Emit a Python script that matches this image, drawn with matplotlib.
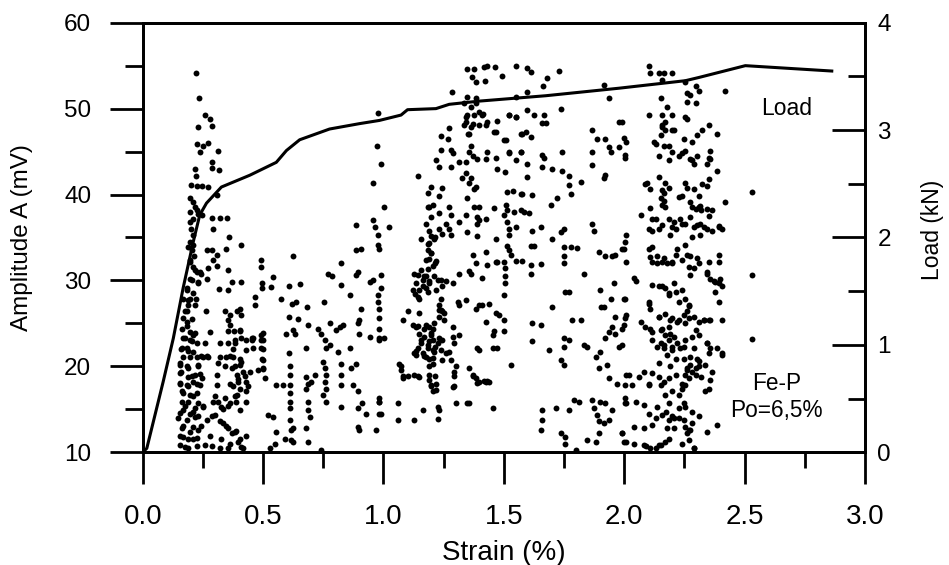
import matplotlib
matplotlib.use("Agg")
import matplotlib.pyplot as plt
from matplotlib.ticker import MultipleLocator

plt.rcParams['font.family'] = ['Liberation Sans', 'DejaVu Sans']

# ---- Load curve (right axis, kN) ----
load_strain = [0.0, 0.017, 0.085, 0.127, 0.168, 0.21, 0.237, 0.265, 0.327, 0.445,
               0.555, 0.597, 0.652, 0.776, 0.90, 0.983, 1.073, 1.10, 1.218, 1.273,
               1.398, 1.674, 1.978, 2.254, 2.31, 2.503, 2.862]
load_kN = [0.0, 0.037, 0.657, 1.06, 1.53, 1.96, 2.21, 2.32, 2.47, 2.58,
           2.70, 2.81, 2.91, 3.01, 3.06, 3.09, 3.14, 3.19, 3.20, 3.24,
           3.27, 3.32, 3.39, 3.46, 3.49, 3.60, 3.55]

# ---- AE hits: strain (%) and amplitude (mV) ----
strain_a = [0.22, 0.232, 0.258, 0.279, 0.286, 0.231, 0.224, 0.251, 0.272, 0.238, 0.311, 0.217, 0.286, 0.286, 0.316,
            0.221, 0.2, 0.224, 0.245, 0.272, 0.307, 0.196, 0.21, 0.217, 0.227, 0.196, 0.231, 0.245, 0.21, 0.196,
            0.286, 0.32, 0.351, 0.293, 0.2, 0.207, 0.196, 0.21, 0.203, 0.213, 0.359, 0.41, 0.348, 0.265, 0.286,
            0.307, 0.293, 0.196, 0.21, 0.224, 0.196, 0.231, 0.265, 0.238, 0.272, 0.309, 0.355, 0.316, 0.355, 0.369,
            0.41, 0.182, 0.168, 0.196, 0.221, 0.189, 0.182, 0.262, 0.341, 0.362, 0.39, 0.403, 0.41, 0.355, 0.362,
            0.378, 0.403, 0.168, 0.182, 0.162, 0.196, 0.21, 0.175, 0.203, 0.279, 0.258, 0.32, 0.355, 0.383, 0.41,
            0.43, 0.459, 0.162, 0.182, 0.21, 0.168, 0.196, 0.224, 0.251, 0.272, 0.32, 0.348, 0.376, 0.403, 0.431,
            0.155, 0.189, 0.231, 0.155, 0.189, 0.217, 0.245, 0.307, 0.369, 0.39, 0.403, 0.417, 0.445, 0.48, 0.155,
            0.182, 0.21, 0.238, 0.162, 0.196, 0.224, 0.307, 0.362, 0.396, 0.403, 0.431, 0.39, 0.431, 0.162, 0.189,
            0.168, 0.21, 0.231, 0.251, 0.293, 0.327, 0.341, 0.362, 0.403, 0.431, 0.148, 0.182, 0.217, 0.162, 0.196,
            0.231, 0.168, 0.21, 0.265, 0.3, 0.334, 0.355, 0.383, 0.279, 0.155, 0.189, 0.224, 0.286, 0.32, 0.355,
            0.396, 0.417]
amp_a = [54.2, 51.2, 49.2, 48.8, 48.0, 47.9, 45.9, 45.7, 46.0, 45.0, 45.1, 43.0, 43.8, 43.1, 42.9,
         42.1, 41.1, 41.0, 41.0, 40.9, 40.0, 39.6, 39.1, 38.6, 38.2, 38.0, 37.7, 37.6, 37.2, 36.8,
         37.3, 37.3, 37.3, 36.0, 36.0, 35.3, 34.5, 34.1, 33.5, 32.9, 35.0, 34.1, 33.7, 33.5, 33.5,
         33.0, 32.4, 32.2, 31.6, 31.0, 30.2, 29.8, 30.2, 31.0, 31.4, 31.7, 31.2, 29.0, 28.9, 29.8,
         29.8, 29.1, 27.9, 27.9, 27.9, 27.1, 26.4, 26.4, 26.4, 26.0, 26.4, 26.7, 26.0, 25.4, 24.8,
         24.1, 24.2, 25.6, 25.2, 24.4, 24.0, 23.6, 23.3, 22.9, 24.0, 22.7, 22.7, 22.7, 22.7, 23.3,
         23.1, 23.3, 22.1, 22.1, 21.7, 21.1, 21.1, 21.1, 21.1, 21.1, 21.1, 21.1, 21.1, 20.9, 21.9,
         20.2, 19.8, 20.2, 19.2, 18.8, 19.0, 18.6, 19.0, 19.8, 19.0, 20.2, 19.4, 19.4, 19.6, 18.0,
         17.8, 18.2, 17.8, 17.1, 16.7, 16.9, 17.8, 18.0, 18.2, 17.4, 18.2, 16.7, 17.1, 15.9, 15.9,
         14.9, 14.7, 15.7, 15.3, 15.9, 15.3, 16.3, 15.7, 14.9, 15.9, 14.0, 13.8, 14.1, 12.8, 12.4,
         12.6, 11.8, 11.6, 13.8, 14.3, 13.4, 12.8, 12.4, 11.9, 10.9, 10.5, 10.7, 10.7, 10.5, 10.5,
         11.2, 10.5]

strain_b = [0.624, 0.493, 0.493, 0.541, 0.497, 0.497, 0.534, 0.465, 0.465, 0.576, 0.608, 0.652, 0.622, 0.638, 0.682,
            0.751, 0.608, 0.645, 0.597, 0.624, 0.631, 0.686, 0.493, 0.493, 0.493, 0.452, 0.459, 0.608, 0.68, 0.728,
            0.742, 0.756, 0.776, 0.776, 0.804, 0.818, 0.831, 0.762, 0.749, 0.756, 0.762, 0.756, 0.762, 0.749, 0.762,
            0.68, 0.686, 0.68, 0.686, 0.686, 0.693, 0.68, 0.686, 0.742, 0.714, 0.7, 0.61, 0.61, 0.61, 0.61,
            0.61, 0.61, 0.613, 0.617, 0.617, 0.552, 0.583, 0.497, 0.5, 0.507, 0.521, 0.541, 0.555, 0.548, 0.528,
            0.59, 0.624, 0.624, 0.825, 0.825, 0.825, 0.813, 0.866, 0.887, 0.873, 0.894, 0.825, 0.894, 0.909, 0.928,
            0.9, 0.894, 0.97, 0.983, 0.983, 0.983, 0.859, 0.942, 0.983, 1.004, 0.9, 0.894, 0.9, 0.907, 0.859,
            0.825, 0.825, 0.769, 0.787, 0.887, 0.894, 0.942, 0.956, 0.977, 0.977, 0.981, 0.983, 0.983, 0.983, 0.99,
            0.99, 0.887, 0.956, 0.963, 0.977, 0.977, 0.983, 0.887, 0.907, 1.004, 1.025, 0.99, 0.972, 0.956, 0.977]
amp_b = [32.9, 32.4, 31.6, 30.4, 29.7, 29.1, 29.2, 28.1, 27.2, 27.8, 29.4, 29.6, 27.3, 27.5, 26.9,
         27.5, 25.8, 25.5, 23.8, 24.2, 23.8, 24.8, 23.7, 23.1, 22.1, 23.3, 22.1, 21.6, 22.1, 24.4,
         23.8, 23.1, 22.5, 25.0, 24.2, 24.6, 24.8, 22.1, 20.5, 19.8, 19.0, 18.2, 17.4, 16.7, 15.9,
         18.8, 18.0, 17.4, 15.9, 14.9, 14.1, 12.8, 11.2, 10.3, 19.0, 18.2, 20.0, 19.0, 17.8, 16.9,
         15.9, 15.1, 13.8, 12.6, 11.4, 17.8, 17.8, 20.9, 19.8, 18.6, 14.3, 14.1, 12.4, 11.0, 10.5,
         11.6, 12.8, 11.2, 20.3, 19.0, 17.8, 21.7, 19.8, 20.3, 17.8, 17.1, 15.3, 15.1, 15.7, 14.5,
         12.6, 13.0, 12.6, 16.3, 15.9, 14.5, 22.1, 23.4, 23.3, 23.3, 25.4, 25.0, 23.8, 26.7, 28.3,
         29.5, 32.0, 30.7, 30.5, 30.6, 31.0, 29.8, 30.0, 28.3, 27.5, 26.7, 25.6, 24.4, 23.1, 29.1,
         30.6, 36.4, 37.0, 36.2, 35.3, 34.1, 33.7, 33.5, 33.7, 38.5, 36.2, 43.6, 45.6, 41.3, 49.5]

strain_c = [1.349, 1.377, 1.418, 1.432, 1.464, 1.549, 1.598, 1.611, 1.729, 1.367, 1.383, 1.422, 1.494, 1.681, 1.664,
            1.284, 1.345, 1.383, 1.549, 1.598, 1.915, 1.936, 1.335, 1.363, 1.383, 1.397, 1.349, 1.342, 1.37, 1.356,
            1.397, 1.411, 1.432, 1.473, 1.598, 1.625, 1.667, 1.736, 1.522, 1.549, 1.66, 1.674, 1.591, 1.577, 1.611,
            1.466, 1.239, 1.266, 1.273, 1.28, 1.287, 1.239, 1.218, 1.232, 1.28, 1.325, 1.363, 1.377, 1.363, 1.356,
            1.37, 1.39, 1.425, 1.432, 1.315, 1.342, 1.508, 1.522, 1.549, 1.57, 1.466, 1.473, 1.505, 1.66, 1.667,
            1.66, 1.701, 1.598, 1.598, 1.743, 1.743, 1.77, 1.77, 1.777, 1.819, 1.867, 1.888, 1.867, 1.867, 1.922,
            1.936, 1.977, 1.943, 2.002, 2.002, 1.977, 1.922, 1.915, 1.142, 1.197, 1.183, 1.232, 1.245, 1.273, 1.232,
            1.19, 1.204, 1.342, 1.356, 1.383, 1.349, 1.377, 1.397, 1.515, 1.536, 1.57, 1.577, 1.616, 1.508, 1.515,
            1.542, 1.57, 1.584, 1.605, 1.694, 1.722, 1.28, 1.259, 1.232, 1.245, 1.273, 1.28, 1.314, 1.342, 1.39,
            1.397, 1.425, 1.39, 1.459, 1.501, 1.515, 1.522, 1.522, 1.549, 1.618, 1.653, 1.736, 1.749, 1.701, 1.867,
            1.874, 1.349, 1.39, 1.466, 1.515, 1.522, 1.529, 1.549, 1.577, 1.611, 1.625, 1.653, 1.749, 1.777, 1.805,
            1.749, 1.749, 1.611, 1.611, 1.895, 1.922, 1.95, 1.963, 1.991, 2.005, 1.37, 1.383, 1.425, 1.432, 1.466,
            1.473, 1.501, 1.505, 1.314, 1.356, 1.363, 1.411, 1.505, 1.505, 1.501, 1.832, 1.957, 1.901, 1.77, 1.756,
            1.156, 1.197, 1.211, 1.19, 1.183, 1.197, 1.19, 1.218, 1.204, 1.183, 1.176, 1.211, 1.19, 1.163, 1.225,
            1.239, 1.245, 1.259, 1.287, 1.176, 1.135, 1.121, 1.142, 1.149, 1.128, 1.142, 1.232, 1.239, 1.245, 1.252,
            1.232, 1.308, 1.314, 1.342, 1.383, 1.397, 1.411, 1.439, 1.466, 1.48, 1.501, 1.425, 1.08, 1.1, 1.149,
            1.121, 1.135, 1.149, 1.176, 1.19, 1.204, 1.211, 1.197, 1.17, 1.156, 1.19, 1.204, 1.232, 1.245, 1.225,
            1.287, 1.287, 1.314, 1.294, 1.46, 1.453, 1.501, 1.618, 1.653, 1.701, 1.784, 1.819, 1.902, 1.915, 1.943,
            2.005, 1.95, 1.936, 1.963, 2.005, 1.991, 1.963, 1.922, 1.977, 1.142, 1.128, 1.135, 1.163, 1.183, 1.204,
            1.176, 1.19, 1.211, 1.239, 1.259, 1.273, 1.28, 1.245, 1.204, 1.301, 1.294, 1.066, 1.073, 1.08, 1.19,
            1.19, 1.197, 1.204, 1.218, 1.149, 1.128, 1.287, 1.301, 1.356, 1.39, 1.397, 1.383, 1.397, 1.425, 1.439,
            1.356, 1.37, 1.453, 1.473, 1.453, 1.529, 1.618, 1.687, 1.736, 1.749, 1.749, 1.749, 1.77, 1.832, 1.846,
            1.881, 1.901, 1.895, 1.929, 1.936, 1.97, 2.005, 2.005, 0.983, 0.99, 1.059, 1.163, 1.128, 1.059, 1.225,
            1.232, 1.225, 1.349, 1.66, 1.66, 1.653, 1.715, 1.77, 1.791, 1.812, 1.867, 1.874, 1.888, 1.895, 1.915,
            1.936, 1.95, 1.901, 1.922, 1.736, 1.756, 1.756, 1.798, 1.846, 1.881, 1.895, 2.005, 1.991, 1.998]
amp_c = [54.6, 54.6, 54.8, 54.96, 54.9, 54.96, 54.7, 54.3, 54.4, 53.7, 53.1, 53.2, 53.8, 53.6, 52.6,
         51.9, 51.4, 51.2, 51.3, 51.9, 52.7, 51.2, 50.6, 50.2, 50.6, 49.6, 49.2, 48.4, 48.2, 47.1,
         48.1, 49.2, 48.4, 48.6, 49.8, 49.2, 49.3, 50.0, 49.3, 49.0, 48.3, 48.3, 47.3, 47.0, 46.7,
         47.3, 46.8, 46.5, 47.7, 45.2, 44.8, 45.2, 44.0, 43.2, 43.2, 41.9, 41.9, 40.7, 45.6, 44.9,
         44.5, 44.1, 44.1, 44.9, 43.8, 43.8, 46.3, 45.0, 44.0, 45.0, 44.2, 43.0, 42.6, 44.6, 44.2,
         43.2, 43.0, 43.6, 42.0, 45.0, 42.7, 42.2, 41.1, 40.1, 41.5, 47.5, 46.5, 45.0, 43.4, 46.5,
         45.5, 45.5, 44.9, 44.6, 44.2, 48.5, 42.3, 41.9, 42.1, 40.9, 40.2, 39.8, 40.8, 38.6, 37.8,
         38.6, 38.8, 42.5, 41.3, 40.9, 39.6, 38.6, 38.6, 40.3, 40.4, 40.1, 40.1, 40.0, 38.8, 38.2,
         38.0, 38.2, 38.0, 37.8, 38.8, 39.6, 37.6, 36.6, 36.0, 35.4, 36.0, 35.3, 36.8, 37.6, 37.4,
         37.0, 37.2, 36.6, 38.4, 37.6, 36.8, 36.0, 35.3, 36.2, 35.8, 36.2, 35.6, 36.0, 34.8, 36.6,
         35.8, 35.6, 35.2, 34.8, 34.0, 33.6, 33.0, 32.3, 32.3, 34.0, 34.0, 31.9, 33.9, 33.9, 33.8,
         32.9, 32.0, 31.8, 30.8, 33.3, 32.9, 32.9, 33.0, 33.7, 34.5, 33.0, 32.0, 33.3, 31.8, 32.1,
         32.1, 32.2, 31.4, 30.7, 31.1, 30.7, 30.3, 30.5, 29.7, 28.3, 30.7, 29.7, 28.9, 28.7, 28.7,
         34.8, 35.2, 34.8, 34.4, 33.6, 33.2, 32.5, 32.3, 31.7, 31.3, 30.5, 30.5, 29.7, 30.1, 30.1,
         30.1, 29.3, 29.9, 29.7, 29.1, 29.7, 28.9, 28.1, 28.9, 30.8, 30.6, 27.1, 26.6, 26.4, 25.4,
         25.8, 27.5, 27.1, 27.7, 26.7, 27.1, 27.1, 27.3, 26.2, 26.0, 25.4, 25.2, 25.4, 26.4, 26.2,
         24.8, 24.6, 23.8, 24.8, 24.6, 24.4, 25.0, 23.6, 23.4, 22.7, 22.9, 23.1, 23.3, 23.1, 22.7,
         24.6, 23.4, 23.6, 22.7, 24.1, 23.6, 24.1, 25.0, 24.8, 26.9, 25.4, 25.4, 26.9, 26.9, 27.9,
         27.9, 24.6, 24.0, 25.8, 25.6, 24.4, 23.8, 23.3, 22.3, 22.1, 21.5, 21.3, 21.5, 22.1, 21.9,
         21.1, 20.9, 21.7, 21.9, 21.5, 21.7, 20.7, 20.7, 20.3, 20.0, 19.4, 20.3, 19.6, 18.6, 19.0,
         18.4, 17.8, 17.1, 18.0, 18.8, 19.0, 17.6, 15.7, 15.7, 22.1, 21.9, 18.6, 18.2, 18.2, 18.2,
         19.8, 19.0, 22.1, 22.1, 15.1, 20.2, 22.9, 21.9, 20.7, 20.2, 23.3, 22.3, 23.1, 22.5, 22.3,
         21.1, 21.7, 19.8, 20.2, 18.6, 18.0, 17.8, 15.7, 15.9, 14.5, 15.7, 14.9, 13.8, 13.8, 15.3,
         14.9, 13.9, 15.7, 14.9, 13.8, 12.6, 15.1, 14.9, 16.1, 15.9, 16.1, 15.1, 14.3, 13.6, 13.4,
         13.8, 14.9, 15.9, 15.7, 12.2, 11.8, 11.0, 10.3, 11.4, 11.2, 12.2, 16.3, 12.2, 11.2]

strain_d = [2.102, 2.109, 2.144, 2.164, 2.199, 2.158, 2.254, 2.261, 2.296, 2.31, 2.275, 2.296, 2.261, 2.42, 2.151,
            2.178, 2.102, 2.158, 2.199, 2.254, 2.171, 2.261, 2.351, 2.385, 2.323, 2.303, 2.282, 2.247, 2.206, 2.171,
            2.158, 2.151, 2.164, 2.123, 2.144, 1.992, 1.999, 2.006, 2.185, 2.199, 2.227, 2.254, 2.275, 2.289, 2.303,
            2.358, 2.358, 2.344, 2.385, 2.144, 2.088, 2.109, 2.171, 2.164, 2.185, 2.254, 2.261, 2.289, 2.31, 2.323,
            2.351, 2.344, 2.24, 2.275, 2.296, 2.31, 2.344, 2.351, 2.316, 2.151, 2.158, 2.171, 2.42, 2.53, 2.068,
            2.109, 2.13, 2.102, 2.116, 2.144, 2.185, 2.206, 2.213, 2.192, 2.233, 2.254, 2.275, 2.303, 2.316, 2.344,
            2.365, 2.392, 2.406, 2.282, 2.316, 2.006, 1.999, 2.006, 2.04, 2.047, 1.999, 2.006, 1.999, 1.992, 2.006,
            2.102, 2.109, 2.116, 2.137, 2.158, 2.178, 2.199, 2.213, 2.22, 2.254, 2.261, 2.268, 2.275, 2.289, 2.31,
            2.351, 2.392, 2.392, 2.344, 2.358, 2.372, 2.392, 2.399, 2.378, 2.392, 2.53, 2.53, 2.116, 2.144, 2.171,
            2.185, 2.206, 2.213, 2.227, 2.254, 2.268, 2.261, 2.102, 2.109, 2.144, 2.171, 2.199, 2.22, 2.185, 2.158,
            2.109, 2.247, 2.268, 2.289, 2.31, 2.33, 2.351, 2.406, 2.068, 2.088, 2.116, 2.151, 2.171, 2.192, 2.206,
            2.185, 2.151, 2.22, 2.254, 2.282, 2.31, 2.344, 2.358, 2.351, 2.385, 2.406, 2.233, 2.199, 2.164, 2.137,
            2.178, 2.213, 2.247, 2.275, 2.303, 2.02, 2.033, 2.061, 2.082, 2.116, 2.102, 2.144, 2.164, 2.185, 2.213,
            2.254, 2.282, 2.261, 2.275, 2.296, 2.268, 2.254, 2.24, 2.227, 2.199, 2.171, 2.351, 2.337, 2.358, 2.365,
            2.337, 2.309, 2.406, 2.006, 2.047, 2.082, 2.102, 2.13, 2.116, 2.082, 2.04, 1.992, 2.006, 2.04, 2.082,
            2.109, 2.13, 2.151, 2.171, 2.185, 2.178, 2.185, 2.206, 2.227, 2.247, 2.254, 2.282, 2.275, 2.261, 2.268,
            2.289, 2.344, 2.385, 2.158, 2.227, 2.247, 2.185]
amp_d = [55.0, 54.1, 54.2, 54.2, 54.1, 53.3, 53.1, 51.8, 52.6, 52.0, 51.6, 50.6, 50.8, 52.0, 51.2,
         50.2, 49.2, 49.2, 49.2, 49.0, 48.4, 48.8, 48.1, 47.1, 47.5, 46.9, 46.1, 46.5, 47.5, 47.5,
         48.1, 46.9, 45.7, 46.1, 44.5, 48.4, 46.6, 46.1, 45.7, 44.9, 44.5, 45.1, 44.1, 43.5, 44.5,
         45.1, 44.1, 43.5, 42.7, 42.0, 41.2, 40.6, 41.4, 40.2, 40.8, 41.4, 40.8, 40.6, 39.8, 41.2,
         41.8, 41.0, 39.8, 39.1, 38.3, 38.5, 38.3, 37.5, 38.7, 39.6, 38.8, 38.5, 39.1, 40.3, 37.6,
         38.4, 37.2, 36.0, 35.7, 36.0, 37.2, 36.8, 36.0, 35.3, 37.2, 36.6, 37.4, 36.4, 36.6, 36.0,
         35.7, 36.3, 36.0, 35.0, 35.3, 35.3, 33.7, 32.2, 30.3, 29.9, 27.9, 26.0, 24.8, 22.5, 19.0,
         33.7, 32.7, 32.2, 32.0, 32.2, 32.0, 32.0, 33.0, 33.7, 34.1, 33.0, 31.6, 30.6, 31.4, 32.0,
         32.2, 33.0, 32.2, 31.0, 30.2, 29.9, 29.7, 30.2, 28.7, 27.5, 30.6, 23.2, 29.5, 29.3, 29.1,
         28.3, 29.7, 28.7, 27.5, 27.9, 27.1, 26.4, 27.5, 26.7, 25.7, 26.1, 25.6, 25.2, 24.6, 24.4,
         24.4, 26.0, 25.6, 25.8, 25.2, 25.4, 25.4, 25.4, 25.2, 24.6, 24.0, 24.2, 23.6, 23.8, 23.4,
         23.1, 22.7, 22.7, 23.1, 23.4, 23.6, 22.7, 22.1, 21.5, 22.1, 21.3, 22.1, 21.9, 22.1, 22.3,
         21.3, 20.9, 20.9, 21.1, 20.9, 19.0, 17.8, 18.8, 19.4, 19.2, 17.8, 18.8, 18.2, 18.6, 19.0,
         19.0, 19.4, 19.8, 20.2, 19.8, 18.6, 17.8, 17.4, 16.7, 17.1, 16.7, 17.4, 17.1, 18.4, 19.4,
         20.2, 20.6, 21.5, 15.7, 15.9, 15.5, 14.5, 14.0, 13.2, 12.8, 13.0, 12.2, 11.2, 11.0, 10.8,
         10.5, 10.5, 10.8, 11.2, 11.6, 12.8, 13.8, 14.0, 14.0, 13.8, 13.0, 13.4, 12.6, 12.2, 11.4,
         10.5, 12.4, 13.2, 14.3, 15.1, 15.7, 15.7]

# additional hits read from the densest clusters
strain_e = [0.189, 0.196, 0.217, 0.244, 0.203, 0.23, 0.182, 0.21, 0.189, 0.217, 0.175, 0.203, 0.182, 0.217, 0.168,
            0.196, 0.224, 0.161, 0.189, 0.244, 0.265, 0.154, 0.182, 0.23, 0.161, 0.203, 0.237, 0.154, 0.189, 0.224,
            0.168, 0.21, 0.175, 0.217, 0.251, 0.154, 0.196, 0.23, 0.168, 0.21, 0.244, 0.154, 0.189, 0.224, 0.175,
            0.258, 0.3, 0.313, 0.334, 0.355, 0.286, 0.32, 0.348, 0.369, 0.389, 0.327, 0.362, 0.403, 0.41, 0.431,
            0.383, 0.389, 0.396, 0.376, 0.424, 0.438, 0.383, 0.41, 0.362, 0.376, 0.383, 0.403, 0.355, 0.452, 0.5,
            0.5, 0.5, 0.5, 0.5, 0.313, 0.341,
            1.183, 1.197, 1.177, 1.19, 1.212, 1.183, 1.197, 1.177, 1.212, 1.156, 1.17, 1.19, 1.163, 1.183, 1.218,
            1.129, 1.149, 1.239, 1.232, 1.253, 1.143, 1.17, 1.197, 1.156, 1.183, 1.212, 1.136, 1.17, 1.204, 1.19,
            1.212, 1.197, 1.218, 1.294, 1.294, 1.37, 1.39, 1.418, 1.432, 1.073, 1.08, 1.1, 1.143, 1.343, 1.377,
            1.412, 1.336, 1.363, 1.425, 1.46, 1.35, 1.522, 1.55, 1.57, 1.501, 1.522, 1.57,
            2.158, 2.199, 2.13, 2.185, 2.241, 2.282, 2.351, 2.096, 2.158, 2.165, 2.227, 2.282, 2.317, 2.365, 2.116,
            2.158, 2.199, 2.241, 2.289, 2.33, 2.392, 2.116, 2.137, 2.165, 2.199, 2.241, 2.275, 2.303, 2.344, 2.379,
            2.406, 2.158, 2.185, 2.241, 2.268, 2.102, 2.144, 2.192, 2.227, 2.254, 2.296, 2.33, 2.358, 2.116, 2.165,
            2.199, 2.247, 2.289, 2.344, 2.144, 2.192, 2.261, 2.296, 2.31, 2.317, 2.102, 2.151, 2.241, 2.137, 2.172,
            2.199, 2.254, 2.282, 2.31, 2.206, 2.268, 2.089, 2.144, 2.241, 2.289]
amp_e = [33.9, 32.4, 31.2, 30.8, 30.0, 29.7, 28.9, 28.5, 27.7, 27.2, 26.4, 25.5, 24.7, 23.9, 23.3,
         23.1, 22.7, 22.0, 21.8, 21.2, 21.2, 20.4, 20.1, 20.1, 19.3, 18.9, 19.1, 18.1, 17.7, 17.9,
         16.9, 16.6, 15.4, 15.2, 15.4, 14.6, 14.4, 14.2, 13.1, 12.9, 13.1, 11.9, 11.6, 11.7, 10.6,
         10.8, 16.6, 15.8, 15.0, 15.4, 14.2, 13.7, 13.1, 12.3, 12.5, 11.6, 11.0, 11.6, 10.6, 11.9,
         16.6, 15.8, 18.5, 17.7, 18.9, 17.7, 20.1, 20.5, 21.2, 22.0, 23.1, 24.1, 24.1, 23.1, 23.9,
         23.1, 22.0, 20.8, 19.7, 20.4, 20.1,
         38.6, 37.4, 36.6, 35.7, 35.1, 34.3, 33.2, 32.4, 32.0, 31.2, 30.5, 29.9, 29.3, 28.7, 28.9,
         28.4, 27.8, 27.8, 26.6, 26.2, 24.7, 24.3, 23.9, 23.1, 22.5, 22.2, 21.8, 21.2, 21.0, 20.0,
         18.9, 17.7, 17.3, 18.9, 17.7, 18.9, 18.1, 18.3, 18.3, 20.0, 18.9, 18.9, 18.9, 49.0, 49.2,
         49.4, 48.1, 47.9, 48.1, 47.3, 47.1, 49.2, 49.0, 47.1, 46.3, 44.8, 45.0,
         47.9, 47.5, 45.9, 44.0, 44.8, 44.0, 44.2, 41.3, 40.5, 39.3, 39.7, 38.6, 38.2, 38.2, 37.2,
         36.4, 36.2, 36.6, 36.2, 36.2, 36.2, 33.9, 32.8, 32.6, 32.2, 32.4, 32.8, 32.6, 30.8, 29.8,
         29.3, 29.3, 28.5, 28.9, 27.0, 27.3, 25.8, 25.4, 25.4, 25.0, 24.2, 25.4, 25.4, 23.1, 22.5,
         22.3, 22.3, 22.1, 22.7, 20.4, 20.0, 19.6, 19.0, 20.0, 18.8, 18.0, 17.8, 18.0, 15.3, 14.7,
         14.2, 15.3, 14.7, 14.2, 12.8, 12.6, 10.7, 10.9, 11.0, 10.5]

x_ticks = [0.0, 0.5, 1.0, 1.5, 2.0, 2.5, 3.0]
x_ticklabels = ["0.0", "0.5", "1.0", "1.5", "2.0", "2.5", "3.0"]
amp_ticks = [10, 20, 30, 40, 50, 60]
load_ticks = [0, 1, 2, 3, 4]

fig = plt.figure(figsize=(9.49, 5.65), dpi=100)
ax = fig.add_axes([142.7 / 949, (565 - 452.3) / 565, (865 - 142.7) / 949, (452.3 - 22.7) / 565])

lw = 2.0
groups = [(strain_a, amp_a), (strain_b, amp_b), (strain_c, amp_c), (strain_d, amp_d), (strain_e, amp_e)]
for group_x, group_y in groups:
    ax.scatter(group_x, group_y, s=18, color='black', linewidths=0, zorder=3, clip_on=False)

ax.set_xlim(0, 3.0)
ax.set_ylim(10, 60)
ax.set_xticks(x_ticks)
ax.set_xticklabels(x_ticklabels)
ax.xaxis.set_minor_locator(MultipleLocator(0.25))
ax.set_yticks(amp_ticks)
ax.yaxis.set_minor_locator(MultipleLocator(5))
ax.yaxis.tick_left()
ax.tick_params(axis='x', which='major', direction='out', length=23, width=lw, labelsize=20, pad=14)
ax.tick_params(axis='x', which='minor', direction='out', length=11.5, width=lw)
ax.tick_params(axis='y', which='major', direction='out', length=24, width=lw, labelsize=17.5, pad=13)
ax.tick_params(axis='y', which='minor', direction='out', length=13, width=lw)
for sp in ax.spines.values():
    sp.set_linewidth(lw)

ax.set_xlabel("Strain (%)", fontsize=20)
ax.xaxis.set_label_coords(0.5, -0.205)
ax.set_ylabel("Amplitude A (mV)", fontsize=17.5, va='center')
ax.yaxis.set_label_coords(-0.167, 0.499)

ax2 = ax.twinx()
ax2.plot(load_strain, load_kN, color='black', lw=2.2, solid_joinstyle='round', zorder=4)
ax2.set_ylim(0, 4)
ax2.set_yticks(load_ticks)
ax2.yaxis.set_minor_locator(MultipleLocator(0.5))
ax2.tick_params(axis='y', which='major', direction='in', length=24, width=lw, labelsize=17.5, pad=9)
ax2.tick_params(axis='y', which='minor', direction='in', length=12, width=lw)
for sp in ax2.spines.values():
    sp.set_linewidth(lw)
ax2.set_ylabel("Load (kN)", fontsize=16.5, va='center')
ax2.yaxis.set_label_coords(1.093, 0.517)

ax.text(2.674, 49.2, "Load", fontsize=16.5, ha='center', va='baseline')
ax.text(2.633, 17.2, "Fe-P", fontsize=16.3, ha='center', va='baseline')
ax.text(2.633, 14.1, "Po=6,5%", fontsize=16.3, ha='center', va='baseline')

fig.savefig("out.png", dpi=100)
